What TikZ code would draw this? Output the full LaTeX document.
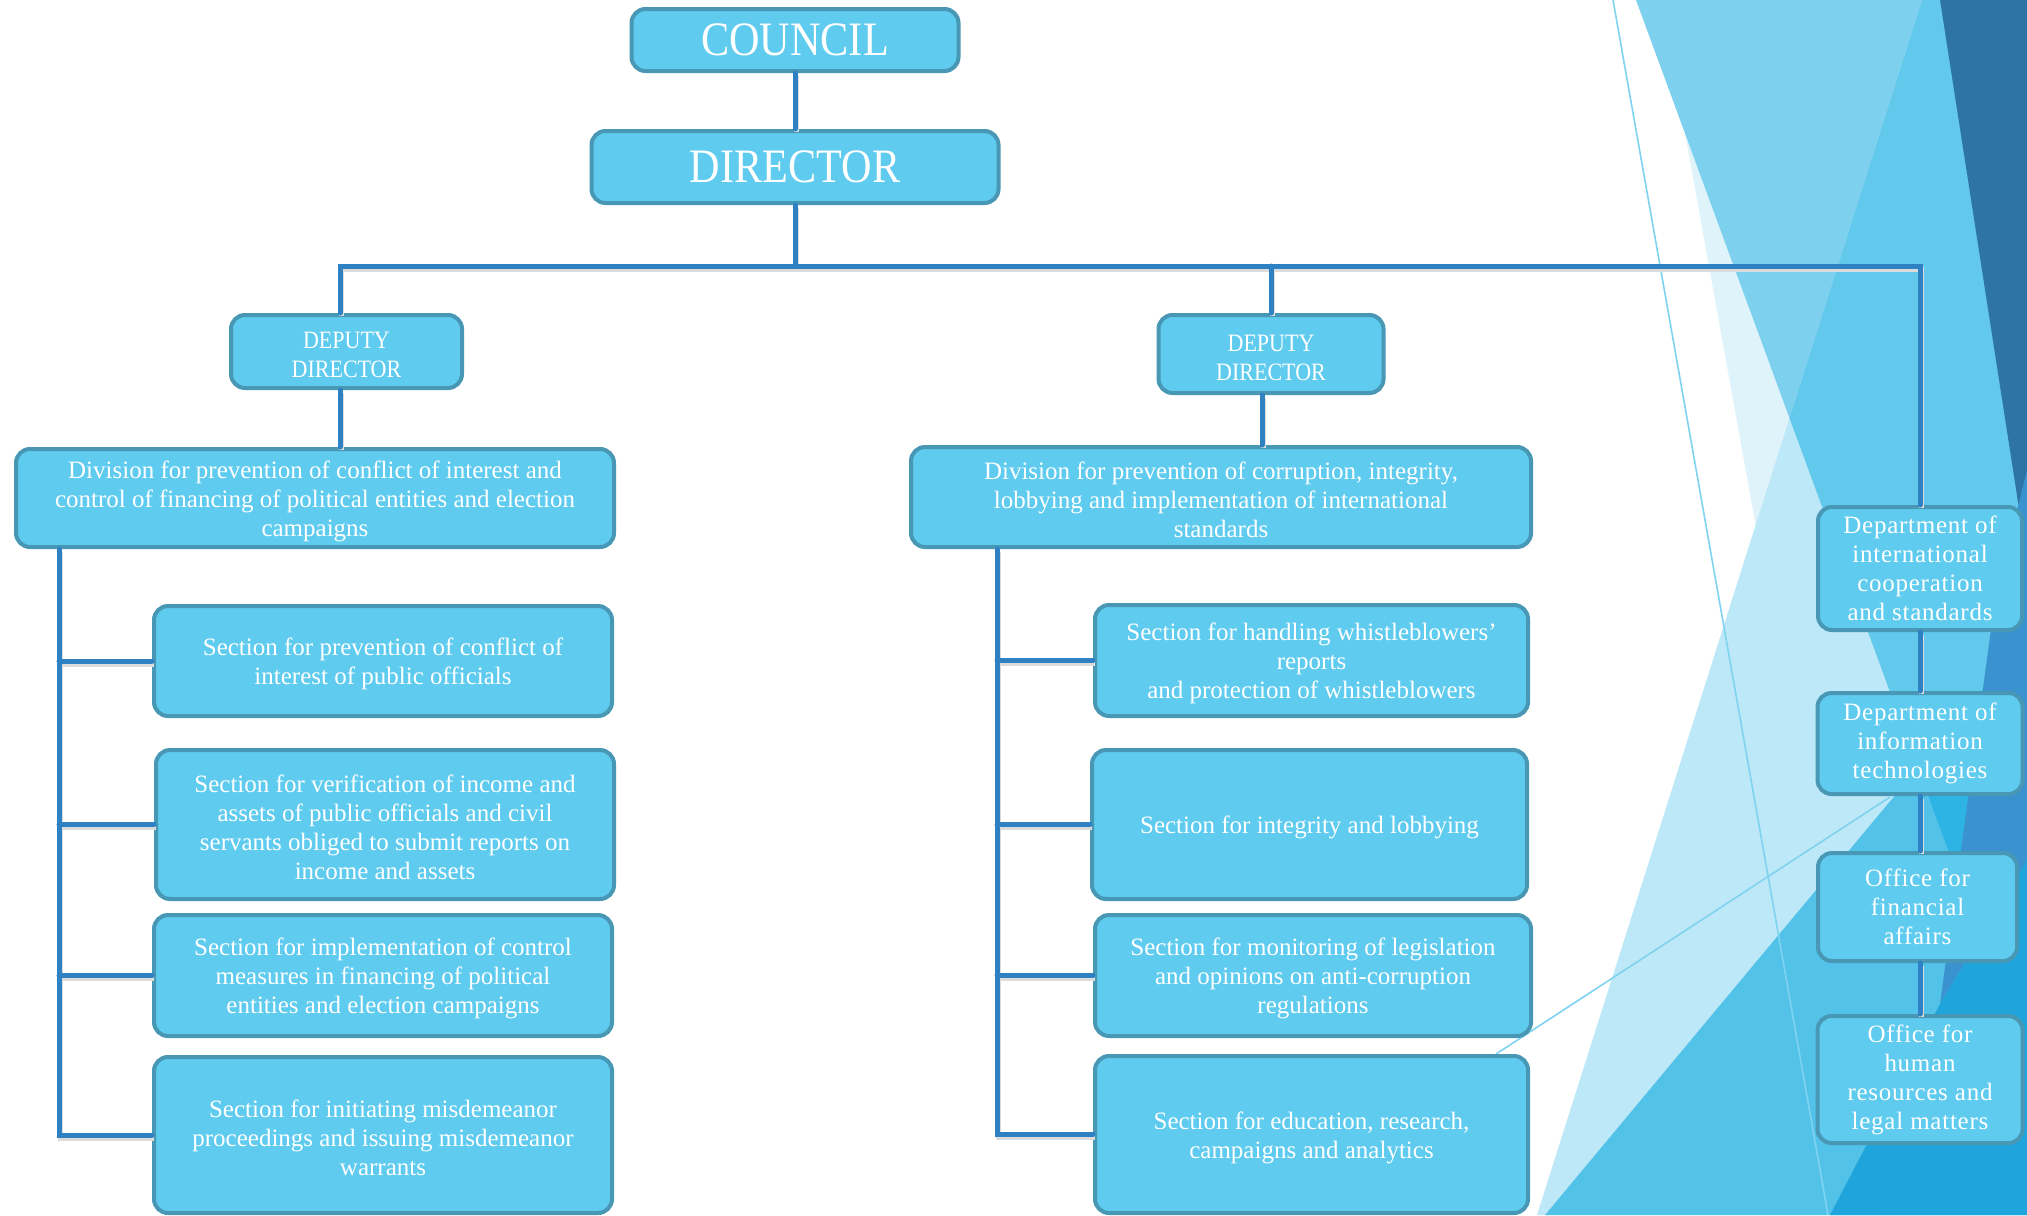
\documentclass[tikz,border=0pt]{standalone}
\usepackage{fontspec}
\setmainfont{Liberation Serif}
\newfontfamily\narrowfont{Liberation Serif}[FakeStretch=0.88]
\usetikzlibrary{calc,positioning}
\definecolor{boxfill}{HTML}{5ECBEF}
\definecolor{boxline}{HTML}{4897B5}
\definecolor{lineblue}{HTML}{2E82C4}
\definecolor{bgpale}{HTML}{DFF3FB}
\definecolor{bglight}{HTML}{7DD0EE}
\definecolor{bgsoft}{HTML}{BDE8F7}
\definecolor{bgmid}{HTML}{62C8EC}
\definecolor{bgdark}{HTML}{2E75A6}
\definecolor{bgdeep}{HTML}{3A93CE}
\definecolor{bglow}{HTML}{52C2E9}
\definecolor{bgcyan}{HTML}{2DB4E4}
\definecolor{bgbright}{HTML}{1FA4DB}
\definecolor{thinline}{HTML}{7FD3F0}
\newcommand{\lift}{\rule{0pt}{12pt}}

\tikzset{
    unit/.style={rectangle, rounded corners=7pt, fill=boxfill, draw=boxline,
        line width=2pt, text=white, align=center, inner sep=0pt,
        font=\fontsize{12.5}{14.5}\selectfont},
    topunit/.style={unit, font=\narrowfont\fontsize{24}{26}\selectfont},
    deputyunit/.style={unit, font=\narrowfont\fontsize{12.5}{14.5}\selectfont},
    sideunit/.style={unit, font=\fontsize{12.5}{14.5}\selectfont\addfontfeatures{LetterSpace=3}},
    sz/.style 2 args={minimum width=#1*0.5pt, minimum height=#2*0.5pt},
    conn/.style={draw=lineblue, line width=2.5pt, line cap=round,
        preaction={draw=black!14, line width=2.5pt, transform canvas={shift={(0.8pt,-1.6pt)}}}}
}

\begin{document}
\begin{tikzpicture}[x=0.5pt, y=-0.5pt]
                        \useasboundingbox (0, 0) rectangle (2027, 1215);
                        % background facets
                        \fill[white] (0, 0) rectangle (2027, 1215);
                        \fill[bgpale] (1661, 0) -- (2027, 0) -- (2027, 1215) -- (1880, 1215) -- cycle;
                        \fill[bglight] (1636, 0) -- (2027, 0) -- (2027, 1065) -- cycle;
                        \fill[bgsoft] (1922, 0) -- (2027, 0) -- (2027, 1215) -- (1537, 1215) -- cycle;
                        \begin{scope}
                            \clip (1636, 0) -- (2027, 0) -- (2027, 1065) -- cycle;
                            \fill[bgmid] (1922, 0) -- (2027, 0) -- (2027, 1215) -- (1537, 1215) -- cycle;
                        \end{scope}
                        \fill[bgdark] (1940, 0) -- (2027, 0) -- (2027, 560) -- cycle;
                        \fill[bglow] (1545, 1215) -- (2027, 637) -- (2027, 1215) -- cycle;
                        \begin{scope}
                            \clip (1545, 1215) -- (2027, 637) -- (2027, 1215) -- cycle;
                            \fill[bgcyan] (1636, 0) -- (2027, 0) -- (2027, 1065) -- cycle;
                        \end{scope}
                        \fill[bgdeep] (2027, 470) -- (1995, 600) -- (1940, 1004) -- (2027, 860) -- cycle;
                        \fill[bgbright] (1940, 1004) -- (2027, 860) -- (2027, 1215) -- (1830, 1215) -- cycle;
                        \draw[thinline, line width=0.8pt] (1613, 0) -- (1828, 1215);
                        \draw[thinline, line width=0.8pt] (1496, 1054) -- (1890, 797);
                        % top
                        \node[topunit, sz={327}{62}] (council) at (795, 40) {COUNCIL};
                        \node[topunit, sz={407}{72}] (dir) at (795, 167) {DIRECTOR};
                        \node[deputyunit, sz={231}{73}] (ddl) at (346.5, 351.5) {\lift DEPUTY\\DIRECTOR};
                        \node[deputyunit, sz={225}{78}] (ddm) at (1271, 354) {\lift DEPUTY\\DIRECTOR};
                        % left division
                        \node[unit, sz={598}{98}] (divl) at (315, 498) {\lift Division for prevention of conflict of interest and\\control of financing of political entities and election\\campaigns};
                        \node[unit, sz={458}{110}] (sl1) at (383, 661) {\lift Section for prevention of conflict of\\interest of public officials};
                        \node[unit, sz={458}{149}] (sl2) at (385, 824.5) {\lift Section for verification of income and\\assets of public officials and civil\\servants obliged to submit reports on\\income and assets};
                        \node[unit, sz={458}{121}] (sl3) at (383, 975.5) {\lift Section for implementation of control\\measures in financing of political\\entities and election campaigns};
                        \node[unit, sz={458}{156}] (sl4) at (383, 1135) {\lift Section for initiating misdemeanor\\proceedings and issuing misdemeanor\\warrants};
                        % middle division
                        \node[unit, sz={620}{100}] (divm) at (1221, 497) {\lift Division for prevention of corruption, integrity,\\lobbying and implementation of international\\standards};
                        \node[unit, sz={433}{111}] (sm1) at (1311.5, 660.5) {\lift Section for handling whistleblowers’\\reports\\and protection of whistleblowers};
                        \node[unit, sz={435}{149}] (sm2) at (1309.5, 824.5) {\lift Section for integrity and lobbying};
                        \node[unit, sz={436}{121}] (sm3) at (1313, 975.5) {\lift Section for monitoring of legislation\\and opinions on anti-corruption\\regulations};
                        \node[unit, sz={433}{157}] (sm4) at (1311.5, 1134.5) {\lift Section for education, research,\\campaigns and analytics};
                        % right column
                        \node[sideunit, sz={204}{123}] (r1) at (1920, 568.5) {Department of\\international\\cooperation\\and standards};
                        \node[sideunit, sz={205}{101}] (r2) at (1920, 743.5) {Department of\\information\\technologies};
                        \node[sideunit, sz={199}{108}] (r3) at (1917.5, 907) {Office for\\financial\\affairs};
                        \node[sideunit, sz={205}{127}] (r4) at (1920, 1079.5) {Office for\\human\\resources and\\legal matters};
                        \coordinate (bus) at (795, 266);
                        \coordinate (busl) at (340, 266);
                        \coordinate (spl) at (59, 0);
                        \coordinate (spm) at (997, 0);
                        \draw[conn]
                        (council) -- (dir) (dir) -- (bus)
                        (ddl.north -| busl) -- (busl) -- (bus) -| (r1.north)
                        (ddm.north) -- (ddm.north |- bus)
                        (ddl.south -| busl) -- (divl.north -| busl)
                        (ddm.south -| 1262, 0) -- (divm.north -| 1262, 0)
                        (r1) -- (r2) (r2) -- (r3.north -| r2) (r3.south -| r4) -- (r4);
                        \draw[conn]
                        (divl.south -| spl) |- (sl4.west)
                        (sl1.west) -- (sl1.west -| spl)
                        (sl2.west) -- (sl2.west -| spl)
                        (sl3.west) -- (sl3.west -| spl);
                        \draw[conn]
                        (divm.south -| spm) |- (sm4.west)
                        (sm1.west) -- (sm1.west -| spm)
                        (sm2.west) -- (sm2.west -| spm)
                        (sm3.west) -- (sm3.west -| spm);
                    \end{tikzpicture}
\end{document}
